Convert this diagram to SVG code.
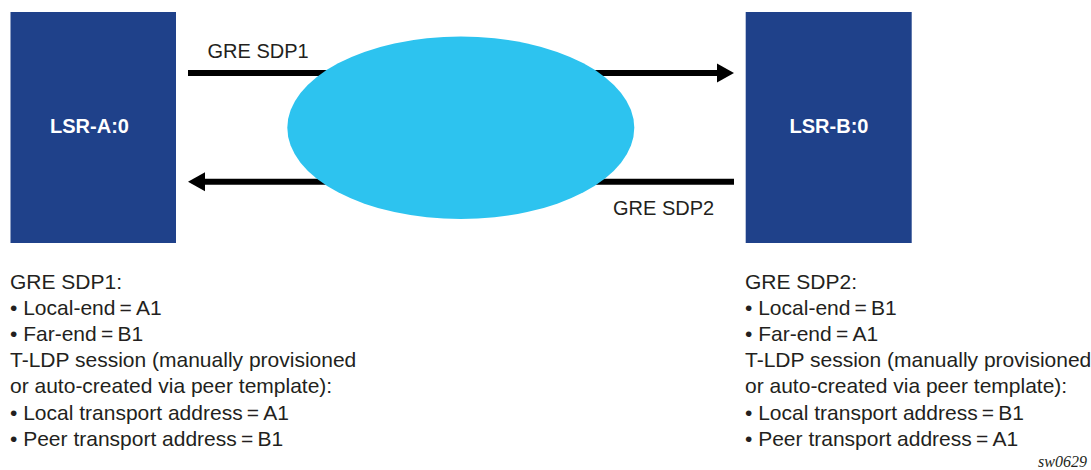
<svg xmlns="http://www.w3.org/2000/svg" width="1091" height="470" viewBox="0 0 1091 470">
<style>
.box{fill:#1F418A;}
.cloud{fill:#2DC3EF;}
.lsr{font-family:"Liberation Sans",Arial,sans-serif;font-weight:bold;font-size:20px;fill:#FFFFFF;text-anchor:middle;}
.lbl{font-family:"Liberation Sans",Arial,sans-serif;font-size:20px;fill:#231F20;}
.body{font-family:"Liberation Sans",Arial,sans-serif;font-size:21px;fill:#231F20;}
.conn{stroke:#000000;stroke-width:6;fill:none;}
.ref{font-family:"Liberation Serif","Times New Roman",serif;font-style:italic;font-size:16px;fill:#231F20;}
</style>
<defs>
<marker id="ah" markerUnits="userSpaceOnUse" markerWidth="17" markerHeight="19" refX="0.5" refY="9.5" orient="auto" overflow="visible">
<path d="M0,0 L17,9.5 L0,19 Z" fill="#000000"/>
</marker>
</defs>
<g id="connectors">
<line class="conn" x1="188" y1="73" x2="717.5" y2="73" marker-end="url(#ah)"/>
<line class="conn" x1="734" y1="181.7" x2="204.5" y2="181.7" marker-end="url(#ah)"/>
</g>
<g id="lsr-a">
<rect class="box" x="10.5" y="12" width="165.5" height="231"/>
<text class="lsr" x="89.5" y="133">LSR-A:0</text>
</g>
<g id="lsr-b">
<rect class="box" x="745.7" y="12" width="166" height="231"/>
<text class="lsr" x="829" y="133">LSR-B:0</text>
</g>
<g id="network">
<ellipse class="cloud" cx="460.8" cy="127.8" rx="173.5" ry="91.2"/>
</g>
<g id="labels">
<text class="lbl" x="207.5" y="57.5">GRE SDP1</text>
<text class="lbl" x="613" y="214.5">GRE SDP2</text>
</g>
<g id="notes-a">
<text class="body" x="10" y="288.5">GRE SDP1:</text>
<text class="body" x="10" y="314.7">• Local-end&#8201;=&#8201;A1</text>
<text class="body" x="10" y="340.9">• Far-end&#8201;=&#8201;B1</text>
<text class="body" x="10" y="367.1">T-LDP session (manually provisioned</text>
<text class="body" x="10" y="393.3">or auto-created via peer template):</text>
<text class="body" x="10" y="419.8">• Local transport address&#8201;=&#8201;A1</text>
<text class="body" x="10" y="446">• Peer transport address&#8201;=&#8201;B1</text>
</g>
<g id="notes-b">
<text class="body" x="745" y="288.5">GRE SDP2:</text>
<text class="body" x="745" y="314.7">• Local-end&#8201;=&#8201;B1</text>
<text class="body" x="745" y="340.9">• Far-end&#8201;=&#8201;A1</text>
<text class="body" x="745" y="367.1">T-LDP session (manually provisioned</text>
<text class="body" x="745" y="393.3">or auto-created via peer template):</text>
<text class="body" x="745" y="419.8">• Local transport address&#8201;=&#8201;B1</text>
<text class="body" x="745" y="446">• Peer transport address&#8201;=&#8201;A1</text>
</g>
<text class="ref" x="1038" y="466.5">sw0629</text>
</svg>
